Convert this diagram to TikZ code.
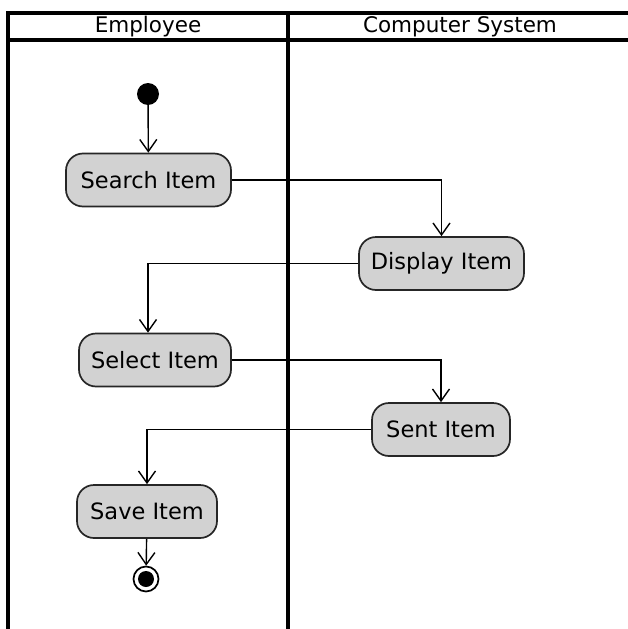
\documentclass[tikz,border=0pt]{standalone}
\usepackage{fontspec}
\setmainfont{DejaVu Sans}
\usetikzlibrary{arrows.meta}
\begin{document}
\begin{tikzpicture}[x=1pt,y=-1pt,
  lane/.style={line width=3.2pt, black},
  lanetitle/.style={font=\fontsize{21.5}{24}\selectfont, inner sep=0pt},
  action/.style={draw=black!85, line width=1.7pt, fill=gray!35,
    rounded corners=17pt, minimum height=53pt, inner sep=0pt,
    font=\fontsize{22.5}{26}\selectfont},
  initial/.style={circle, fill=black, minimum size=22pt, inner sep=0pt},
  final/.style={circle, draw=black, line width=1.7pt, fill=white, minimum size=25pt, inner sep=0pt},
  flow/.style={line width=1.4pt, -{Straight Barb[length=12pt,width=17pt,line width=1.4pt]}},
]
\useasboundingbox (0,0) rectangle (628,629);
\fill[white] (0,0) rectangle (628,629);

% swimlane frame
\draw[lane] (628,13) -- (8,13) -- (8,629);
\draw[lane] (8,40) -- (628,40);
\draw[lane] (288,13) -- (288,629);
\node[lanetitle] (laneA) at (148,27) {Employee};
\node[lanetitle] (laneB) at (460,27) {Computer System};

% activities
\node[initial] (start) at (148,94) {};
\node[action, minimum width=165pt] (search) at (148.5,180) {Search Item};
\node[action, minimum width=165pt] (display) at (441.5,263.5) {Display Item};
\node[action, minimum width=152pt] (select) at (155,360) {Select Item};
\node[action, minimum width=138pt] (sent) at (441,429.5) {Sent Item};
\node[action, minimum width=140pt] (save) at (147,511.5) {Save Item};
\node[final] (end) at (146,579) {};
\fill (end.center) circle (8pt);

% control flow
\draw[flow] (start) -- (search);
\draw[flow] (search.east) -| (display.north);
\draw[flow] (display.west) -| (select.north -| start);
\draw[flow] (select.east) -| (sent.north);
\draw[flow] (sent.west) -| (save.north);
\draw[flow] (save) -- (end);
\end{tikzpicture}
\end{document}
